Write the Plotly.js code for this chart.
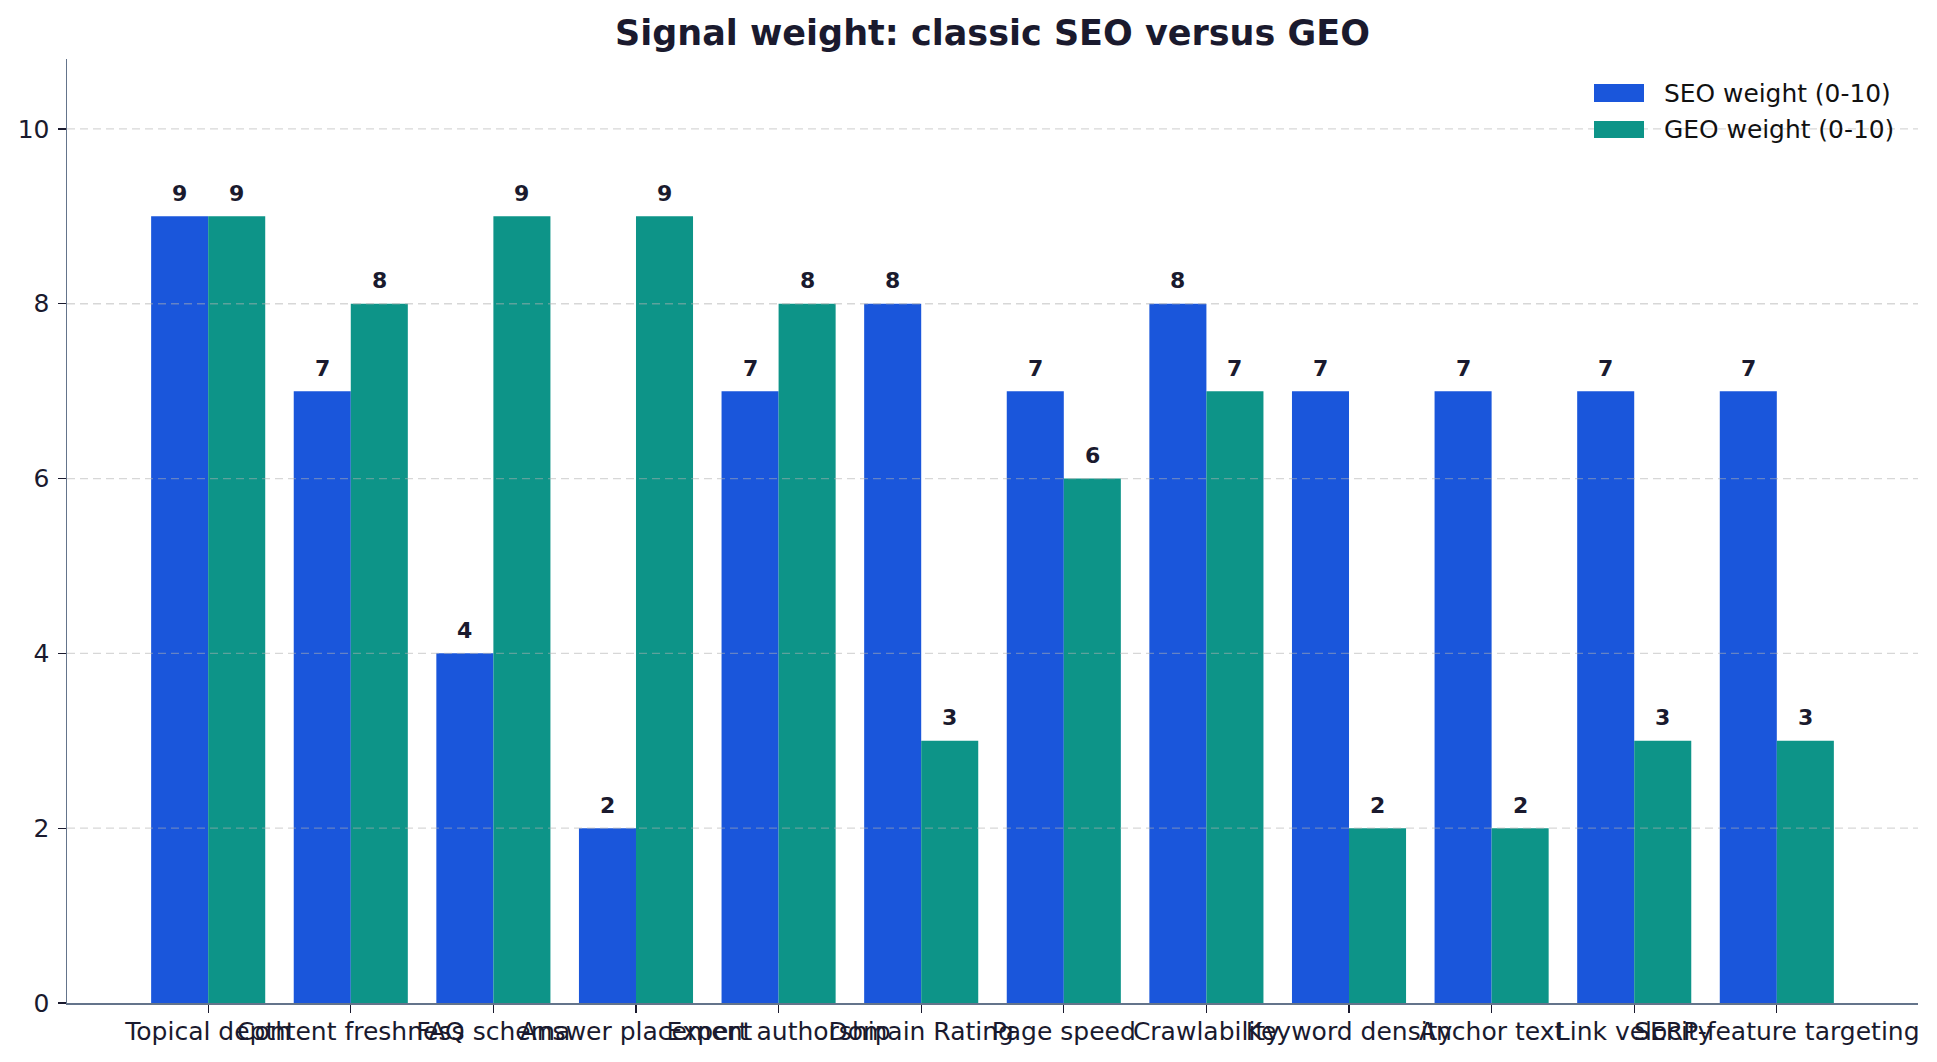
<!DOCTYPE html>
<html>
<head>
<meta charset="utf-8">
<script src="https://cdn.plot.ly/plotly-3.0.1.min.js"></script>
<style>html,body{margin:0;padding:0;background:#fff;}#chart{width:1937px;height:1062px;}</style>
</head>
<body>
<div id="chart"></div>
<script>
const categories = ["Topical depth","Content freshness","FAQ schema","Answer placement","Expert authorship","Domain Rating","Page speed","Crawlability","Keyword density","Anchor text","Link velocity","SERP-feature targeting"];
const seoName = "SEO weight (0-10)";
const geoName = "GEO weight (0-10)";
const seoValues = [9,7,4,2,7,8,7,8,7,7,7,7];
const geoValues = [9,8,9,9,8,3,6,7,2,2,3,3];
const yTicks = [0,2,4,6,8,10];
const titleText = "Signal weight: classic SEO versus GEO";

const FONT = "DejaVu Sans, Verdana, sans-serif";
const INK = "#1a1a2e";
const BLUE = "#1a56db";
const TEAL = "#0d9488";

const W = 1937, H = 1062;
const margin = {l: 67, r: 19, t: 59, b: 59};
const plotW = W - margin.l - margin.r;
const plotH = H - margin.t - margin.b;
const xRange = [-0.99, categories.length - 1 + 0.99];
const pxPerCat = plotW / (xRange[1] - xRange[0]);
const barW = 0.4;
const halfBarPx = barW * pxPerCat / 2;

const traces = [
  {type: "bar", name: seoName, x: categories, y: seoValues, marker: {color: BLUE, line: {width: 0}}, showlegend: false, hoverinfo: "skip"},
  {type: "bar", name: geoName, x: categories, y: geoValues, marker: {color: TEAL, line: {width: 0}}, showlegend: false, hoverinfo: "skip"}
];

const annotations = [];
categories.forEach((c, i) => {
  annotations.push({x: c, y: seoValues[i], xref: "x", yref: "y", text: String(seoValues[i]), showarrow: false, xshift: -halfBarPx, yshift: 23, yanchor: "middle", font: {family: FONT, size: 22, color: INK, weight: "bold"}});
  annotations.push({x: c, y: geoValues[i], xref: "x", yref: "y", text: String(geoValues[i]), showarrow: false, xshift: halfBarPx, yshift: 23, yanchor: "middle", font: {family: FONT, size: 22, color: INK, weight: "bold"}});
});

function px2x(px){ return (px - margin.l) / plotW; }
function py2y(py){ return 1 - (py - margin.t) / plotH; }
const shapes = [];
yTicks.filter(v => v > 0).forEach(v => {
  shapes.push({type: "line", xref: "paper", yref: "y", x0: 0, x1: 1, y0: v, y1: v, layer: "above", line: {color: "rgba(176,176,176,0.5)", width: 1.3, dash: "8px,5px"}});
});
const legendItems = [{name: seoName, color: BLUE, top: 84, bot: 102}, {name: geoName, color: TEAL, top: 121, bot: 138}];
legendItems.forEach(it => {
  shapes.push({type: "rect", xref: "paper", yref: "paper", x0: px2x(1594), x1: px2x(1644), y0: py2y(it.bot), y1: py2y(it.top), fillcolor: it.color, line: {width: 0}, layer: "above"});
  annotations.push({xref: "paper", yref: "paper", x: px2x(1662), y: py2y((it.top + it.bot) / 2), xanchor: "left", yanchor: "middle", showarrow: false, text: it.name, font: {family: FONT, size: 24.9, color: "#111111"}});
});

const layout = {
  width: W, height: H,
  margin: margin,
  paper_bgcolor: "#ffffff", plot_bgcolor: "#ffffff",
  font: {family: FONT, color: INK},
  title: {text: titleText, x: (margin.l + plotW / 2) / W, xanchor: "center", xref: "container", y: 1 - 33 / H, yanchor: "middle", yref: "container", font: {family: FONT, size: 35, color: INK, weight: "bold"}},
  barmode: "group", bargap: 0.2, bargroupgap: 0,
  showlegend: false,
  xaxis: {type: "category", range: xRange, showgrid: false, zeroline: false, showline: true, linecolor: "#64748b", linewidth: 1.5, ticks: "outside", ticklen: 8, tickwidth: 1.3, tickcolor: INK, tickangle: 0, tickfont: {family: FONT, size: 25, color: INK}, ticklabelstandoff: -3, fixedrange: true},
  yaxis: {range: [0, 10.8], tickvals: yTicks, ticktext: yTicks.map(String), showgrid: false, zeroline: false, showline: true, linecolor: "#64748b", linewidth: 1.5, ticks: "outside", ticklen: 8, tickwidth: 1.3, tickcolor: INK, tickfont: {family: FONT, size: 25, color: INK}, ticklabelstandoff: 3, fixedrange: true},
  shapes: shapes,
  annotations: annotations
};

Plotly.newPlot("chart", traces, layout, {displayModeBar: false, staticPlot: true});
</script>
</body>
</html>
